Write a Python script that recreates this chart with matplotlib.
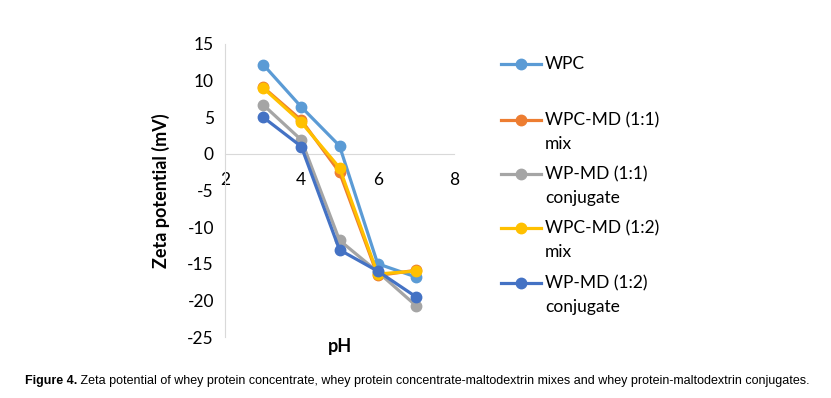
import matplotlib
matplotlib.use('Agg')
import matplotlib.pyplot as plt
from matplotlib.lines import Line2D

# pH values and zeta potential (mV)
ph = [3, 4, 5, 6, 7]
wpc = [12.2, 6.4, 1.1, -15.0, -16.8]
wpc_md_11_mix = [9.1, 4.6, -2.5, -16.6, -15.9]
wp_md_11_conj = [6.7, 1.9, -11.8, -16.1, -20.7]
wpc_md_12_mix = [9.0, 4.3, -1.9, -16.4, -16.0]
wp_md_12_conj = [5.0, 1.0, -13.1, -16.0, -19.5]

labels = ['WPC', 'WPC-MD (1:1)\nmix', 'WP-MD (1:1)\nconjugate',
          'WPC-MD (1:2)\nmix', 'WP-MD (1:2)\nconjugate']
series = [wpc, wpc_md_11_mix, wp_md_11_conj, wpc_md_12_mix, wp_md_12_conj]
colors = ['#5B9BD5', '#ED7D31', '#A5A5A5', '#FFC000', '#4472C4']

plt.rcParams['font.family'] = ['Lato', 'DejaVu Sans']
plt.rcParams['axes.unicode_minus'] = False

W, H = 831, 398
fig = plt.figure(figsize=(W / 100, H / 100), dpi=100)
ax = fig.add_axes([225 / W, 1 - 337 / H, 229 / W, 293 / H])

for y, c in zip(series, colors):
    ax.plot(ph, y, color=c, lw=2.3, marker='o', ms=7.5, solid_capstyle='round')

ax.set_xlim(2, 8)
ax.set_ylim(-25, 15)
ax.set_xticks([2, 4, 6, 8])
ax.set_yticks(range(-25, 16, 5))

for s in ['top', 'right']:
    ax.spines[s].set_visible(False)
ax.spines['left'].set_color('#D9D9D9')
ax.spines['bottom'].set_color('#D9D9D9')
ax.spines['bottom'].set_position(('data', 0))
ax.spines['bottom'].set_zorder(0)
ax.tick_params(axis='both', length=0, labelsize=12.5, colors='#000000')
ax.tick_params(axis='x', pad=13)
ax.tick_params(axis='y', pad=8)

ax.set_ylabel('Zeta potential (mV)', fontsize=13, fontweight='bold')
ax.yaxis.set_label_coords(-0.24, 0.5)
ax.set_xlabel('pH', fontsize=13, fontweight='bold', va='top')
ax.xaxis.set_label_coords(0.5, -0.005)

# legend drawn by hand, Excel style
entry_y = [64, 120, 174, 228, 283]
for lab, c, ey in zip(labels, colors, entry_y):
    yf = 1 - ey / H
    fig.add_artist(Line2D([501 / W, 541 / W], [yf, yf], color=c, lw=2.3,
                          transform=fig.transFigure))
    fig.add_artist(Line2D([521 / W], [yf], color=c, marker='o', ms=7.5,
                          transform=fig.transFigure))
    for i, line in enumerate(lab.split('\n')):
        fig.text(545 / W, 1 - (ey + 24 * i) / H, line, fontsize=12.5,
                 va='center', ha='left')

cap_font = ['Liberation Sans Narrow', 'Liberation Sans']
cap = fig.text(25 / W, 1 - 384 / H, 'Figure 4.', fontsize=8.98,
               fontweight='bold', family=cap_font, va='baseline')
ax.annotate(' Zeta potential of whey protein concentrate, whey protein concentrate-maltodextrin '
            'mixes and whey protein-maltodextrin conjugates.',
            xy=(1, 0), xycoords=cap, va='bottom', ha='left', fontsize=8.98,
            family=cap_font, annotation_clip=False)

fig.savefig('out.png', dpi=100)
